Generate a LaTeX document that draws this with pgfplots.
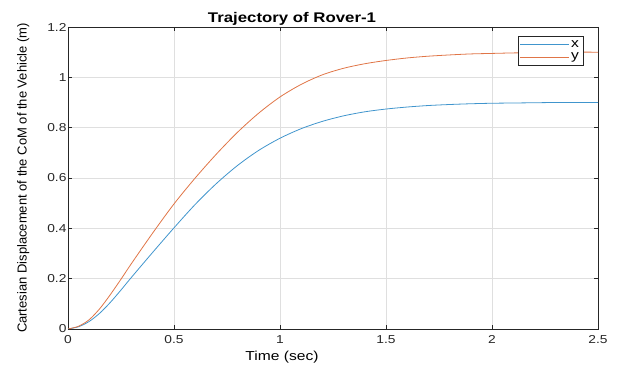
\documentclass[border=0pt]{standalone}
\usepackage{pgfplots}
\pgfplotsset{compat=1.18}
\usepackage{fontspec}
\setmainfont{Liberation Sans}
\definecolor{mblue}{rgb}{0,0.447,0.741}
\definecolor{morange}{rgb}{0.85,0.325,0.098}
\definecolor{axgray}{rgb}{0.15,0.15,0.15}
\colorlet{lblue}{mblue!75}
\colorlet{lorange}{morange!80}
\newcommand{\hs}[1]{\scalebox{1.2}[1]{#1}}
\pgfplotstableread{
t x y
0 0 0
0.05 0.009 0.011
0.1 0.030 0.037
0.15 0.063 0.081
0.2 0.106 0.137
0.25 0.155 0.198
0.3 0.206 0.261
0.4 0.305 0.382
0.5 0.402 0.497
0.6 0.495 0.600
0.7 0.578 0.695
0.8 0.650 0.782
0.9 0.710 0.858
1.0 0.758 0.922
1.1 0.796 0.972
1.2 0.825 1.010
1.3 0.847 1.036
1.4 0.863 1.054
1.5 0.874 1.067
1.6 0.882 1.077
1.7 0.888 1.084
1.8 0.892 1.089
1.9 0.895 1.093
2.0 0.897 1.095
2.1 0.898 1.097
2.2 0.899 1.098
2.3 0.9 1.099
2.4 0.9 1.1
2.5 0.9 1.1
}\traj
\begin{document}
\begin{tikzpicture}
\begin{axis}[
  scale only axis,
  width=530pt, height=302pt,
  at={(0,0)}, anchor=south west,
  xmin=0, xmax=2.5, ymin=0, ymax=1.2,
  xtick={0,0.5,1,1.5,2,2.5},
  ytick={0,0.2,0.4,0.6,0.8,1,1.2},
  xticklabel={\hs{\pgfmathprintnumber{\tick}}},
  yticklabel={\hs{\pgfmathprintnumber{\tick}}},
  grid=major,
  grid style={gray!25, line width=0.6pt},
  axis line style={axgray, line width=0.7pt},
  tick style={axgray, line width=0.6pt},
  tick align=inside,
  major tick length=4pt,
  ticklabel style={font=\fontsize{11.5}{13}\selectfont, text=axgray},
  yticklabel style={xshift=2pt},
  xticklabel style={yshift=-3pt},
  /pgf/number format/assume math mode=true,
  xlabel={\hs{Time (sec)}},
  ylabel={Cartesian Displacement of the CoM of the Vehicle (m)},
  xlabel style={font=\fontsize{13}{14}\selectfont, xshift=-51pt, yshift=-1pt},
  ylabel style={font=\fontsize{13}{14}\selectfont, yshift=11pt},
  title={\hs{\bfseries Trajectory of Rover-1}},
  title style={font=\fontsize{14}{15}\selectfont, xshift=-41pt, yshift=-8pt},
  legend style={at={(rel axis cs:0.972,0.97)}, anchor=north east, draw=axgray, line width=0.6pt,
    font=\fontsize{13}{14}\selectfont, inner sep=2pt, row sep=0pt},
  legend cell align=left,
  legend image code/.code={\draw[#1] (0cm,0cm) -- (1.7cm,0cm);},
]
\addplot[color=lblue, line width=0.8pt, smooth] table[x=t, y=x] {\traj};
\addlegendentry{\hs{x}}
\addplot[color=lorange, line width=0.8pt, smooth] table[x=t, y=y] {\traj};
\addlegendentry{\hs{y}}
\end{axis}
\path[use as bounding box] (-68pt,-37pt) rectangle (552pt,329pt);
\end{tikzpicture}
\end{document}
